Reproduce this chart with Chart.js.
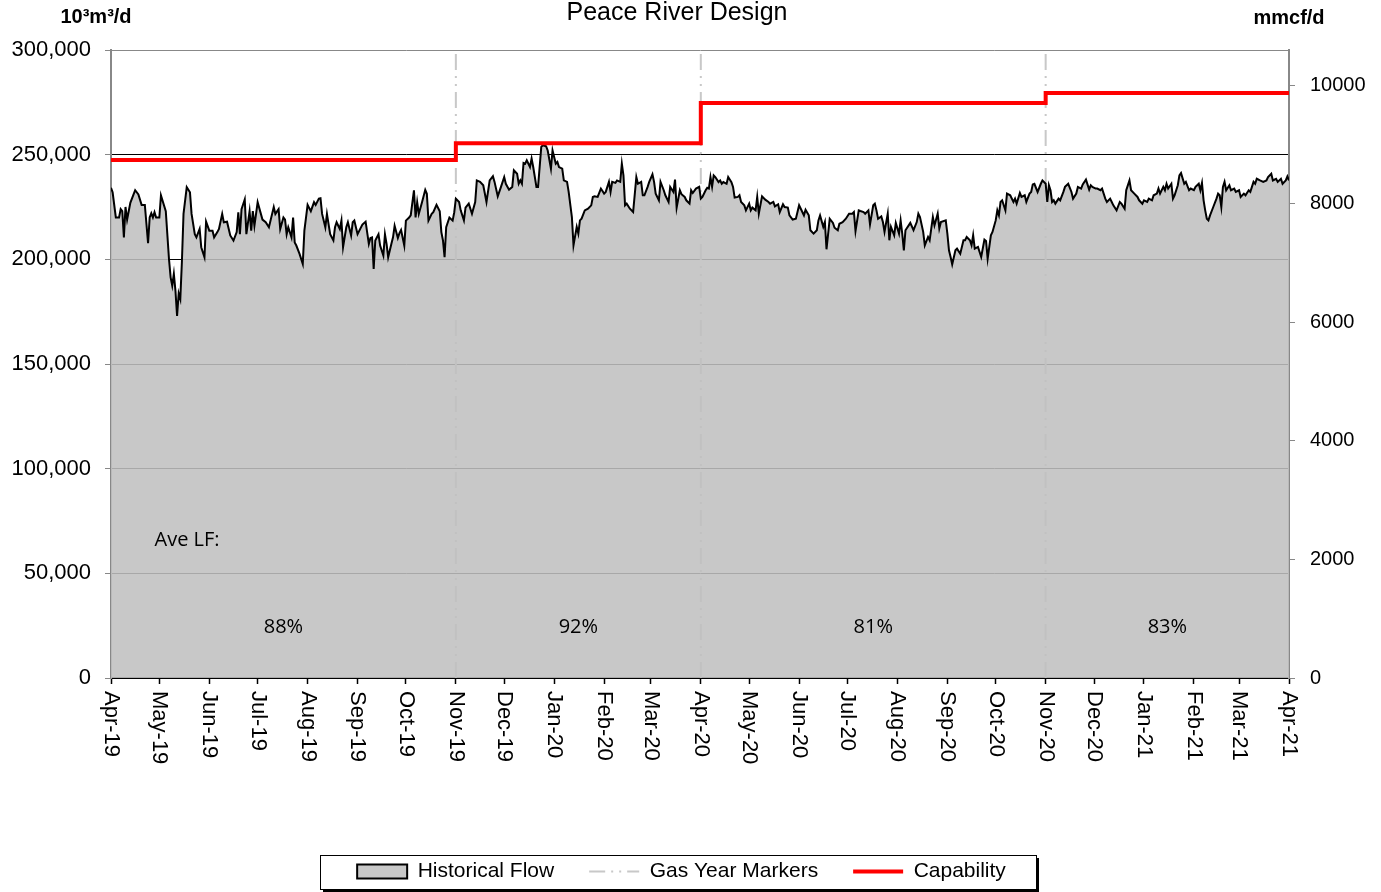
<!DOCTYPE html>
<html>
<head>
<meta charset="utf-8">
<title>Peace River Design</title>
<script src="https://cdn.jsdelivr.net/npm/chart.js@4.4.1/dist/chart.umd.min.js"></script>
<style>
  html, body { margin: 0; padding: 0; background: #fff; }
  #wrap { width: 1381px; height: 892px; }
</style>
</head>
<body>
<div id="wrap"><canvas id="flowChart" width="1381" height="892"></canvas></div>
<script>
// x axis: days since 1 Apr 2019, one tick per month
const monthLabels = [
    'Apr-19', 'May-19', 'Jun-19', 'Jul-19', 'Aug-19', 'Sep-19', 'Oct-19', 'Nov-19', 'Dec-19',
    'Jan-20', 'Feb-20', 'Mar-20', 'Apr-20', 'May-20', 'Jun-20', 'Jul-20', 'Aug-20', 'Sep-20',
    'Oct-20', 'Nov-20', 'Dec-20', 'Jan-21', 'Feb-21', 'Mar-21', 'Apr-21'
];
const rightTicks = [0, 2000, 4000, 6000, 8000, 10000];   // mmcf/d
const gasYearDays = [214, 366, 580];            // Nov-19, Apr-20, Nov-20
const loadFactors = ['88%', '92%', '81%', '83%'];

// capability, 10³m³/d (step changes)
const capabilityDays = [0, 214, 366, 580, 731];
const capabilityValues = [247500, 255500, 274700, 279500, 279500];

// historical flow (values in thousands of 10³m³/d)
const flowDays = [
    0, 1, 3, 5, 6, 7, 8, 9, 10, 12,
    14, 15, 17, 19, 21, 23, 24, 25, 26, 27,
    28, 30, 31, 34, 36, 37, 38, 39, 40, 41,
    42, 43, 44, 45, 47, 49, 50, 52, 53, 55,
    56, 58, 59, 61, 63, 64, 66, 67, 69, 70,
    72, 74, 76, 78, 79, 80, 81, 83, 84, 86,
    87, 88, 89, 91, 94, 96, 98, 101, 102, 104,
    105, 107, 108, 109, 110, 112, 113, 114, 115, 117,
    119, 120, 122, 124, 126, 127, 129, 130, 131, 133,
    134, 136, 138, 139, 140, 142, 143, 144, 146, 147,
    149, 150, 151, 153, 156, 158, 160, 161, 162, 163,
    164, 166, 167, 169, 170, 171, 172, 174, 175, 176,
    178, 179, 180, 182, 183, 185, 186, 188, 189, 190,
    191, 193, 195, 196, 197, 199, 200, 202, 204, 205,
    206, 207, 208, 210, 212, 213,
    214, 216, 217, 219, 220, 222, 224, 226, 227, 229,
    231, 233, 235, 237, 238, 240, 242, 244, 245, 247,
    249, 250, 252, 253, 254, 255, 256, 257, 258, 260,
    261, 262, 264, 265, 267, 268, 270, 271, 273, 274,
    276, 277, 278, 280, 281, 283, 284, 286, 287, 289,
    290, 291, 292, 294, 296, 298, 299, 300, 302, 304,
    306, 307, 309, 310, 311, 313, 314, 316, 317, 318,
    319, 320, 322, 324, 326, 327, 329, 330, 331, 333,
    334, 336, 337, 338, 340, 341, 343, 344, 346, 347,
    349, 350, 351, 353, 354, 356, 357, 359, 360, 361,
    363, 365,
    366, 367, 369, 370, 371, 372, 373, 374, 375, 377,
    378, 379, 380, 382, 383, 385, 386, 387, 389, 390,
    391, 393, 394, 396, 397, 398, 400, 401, 402, 404,
    406, 408, 409, 411, 412, 414, 415, 417, 418, 420,
    421, 423, 425, 427, 429, 430, 431, 433, 434, 436,
    438, 439, 440, 442, 443, 444, 446, 448, 449, 451,
    452, 454, 456, 458, 460, 461, 462, 464, 465, 467,
    468, 470, 471, 473, 474, 475, 476, 478, 479, 480,
    482, 483, 484, 486, 487, 489, 490, 491, 492, 493,
    495, 496, 498, 500, 501, 502, 504, 505, 507, 508,
    510, 511, 513, 514, 515, 518, 519, 520, 521, 522,
    524, 525, 527, 529, 530, 531, 533, 534, 535, 536,
    538, 539, 540, 542, 543, 544, 546, 547, 549, 550,
    551, 552,
    553, 555, 556, 558, 560, 561, 562, 564, 565, 567,
    568, 570, 571, 572, 573, 575, 577, 578, 580, 581,
    582, 583, 584, 585, 586, 588, 589, 591, 592, 594,
    596, 597, 599, 600, 602, 603, 605, 607, 608, 609,
    611, 612, 614, 615, 617, 618, 620, 621, 622, 624,
    626, 627, 629, 630, 632, 633, 635, 637, 638, 640,
    641, 643, 644, 646, 647, 649, 650, 651, 653, 654,
    655, 656, 658, 659, 660, 662, 663, 664, 666, 667,
    669, 670, 672, 673, 675, 676, 677, 678, 679, 680,
    681, 682, 684, 686, 687, 688, 689, 690, 691, 692,
    694, 695, 697, 698, 700, 701, 703, 704, 706, 707,
    709, 710, 711, 713, 715, 717, 718, 720, 721, 723,
    724, 726, 727, 729, 730, 731
];
const flowThousands = [
    234.2, 232, 220, 220, 224, 223, 210.5, 225, 219, 227,
    231, 233, 231, 226, 226, 207.7, 220, 222, 220, 222.5,
    220, 220, 230.5, 223, 200, 191.4, 187.4, 193, 185, 173,
    183.7, 181, 199, 221.7, 234.5, 232, 221.7, 212, 210.5, 214.5,
    205.8, 201, 218, 213.7, 213.7, 210.5, 213, 214.5, 221.7, 217.7,
    218, 211.4, 209, 213, 222.5, 212, 224, 228.6, 212, 223,
    213.7, 223, 216, 227.3, 219, 217.7, 215.3, 225, 221.7, 224,
    214.5, 220, 219, 212, 215.3, 210.5, 220, 208, 206.6, 202.6,
    197.8, 213.7, 226, 223, 227.3, 226, 229, 229.2, 221.7, 215.3,
    221.7, 212, 209, 215.3, 217.7, 214.5, 218.5, 205.8, 215.3, 217.7,
    211.4, 217.7, 218.5, 212, 216.6, 218, 207.4, 210.2, 210.5, 195.4,
    209, 212, 206.6, 201.8, 212, 207.4, 201, 207.4, 210.5, 216,
    210.2, 212.5, 214, 206.6, 218.5, 220, 221, 233, 220, 227.3,
    221.7, 227.3, 233.2, 231.3, 218.5, 221.7, 222.5, 226, 223, 213,
    209, 201, 215.3, 220, 218.5, 222.5,
    229, 227.4, 223.4, 218.6, 224.7, 226.6, 221.8, 227.4, 237.7, 237,
    235.4, 227.4, 237.7, 239.7, 237, 230.1, 234.6, 239.3, 236.1, 233.3,
    234.6, 242.5, 240.9, 236.1, 237.7, 236.1, 246, 245.7, 247.3, 244.1,
    248.1, 244.1, 234.6, 234.6, 253.7, 254.5, 254, 252, 243.3, 252,
    245.7, 246.5, 244.1, 243.3, 237.7, 237, 232.2, 220.2, 206.7, 215.5,
    212.3, 218.6, 219.4, 223.4, 224.2, 225.8, 229.8, 230.1, 229.8, 233.8,
    231.4, 232.2, 237, 232.2, 237, 236.5, 237.7, 237, 245.7, 240.1,
    225.8, 226.6, 224.2, 222.6, 239.3, 236.1, 237, 230.6, 230.6, 234.6,
    237, 240.6, 237, 231.4, 228.2, 237, 233, 230.6, 227.4, 234.6,
    232.2, 238.1, 224.7, 233, 231.1, 229.8, 228.2, 226.6, 233, 231.7,
    233.8, 234.6,
    229, 229.8, 233, 234.2, 233.8, 239.3, 234.7, 240.1, 239.3, 236.9,
    237.7, 236.1, 236.9, 236.1, 239.3, 236.9, 234.6, 229.5, 229.8, 230.6,
    227.4, 225.8, 223.4, 226.6, 223.4, 224.7, 223.4, 229.8, 221.8, 230.1,
    228.5, 227.4, 226.6, 227.4, 225.3, 226.3, 222.6, 226.3, 225, 224.7,
    221, 219, 219.4, 225.8, 222.6, 221, 223.7, 221, 213.9, 212.3,
    213.9, 218.6, 221, 215.5, 217.8, 204.8, 219.4, 217.4, 215.1, 213.9,
    217, 217.8, 219.4, 221.8, 221.8, 222.6, 213.5, 223.4, 223.1, 222.6,
    221.8, 223.4, 216.7, 225.8, 226.6, 223.4, 219.4, 220.5, 217.8, 213.1,
    221.8, 209.1, 215.5, 211.5, 217.4, 212.3, 218.6, 212.3, 204.3, 213.9,
    216.2, 217.4, 213.9, 217.8, 221.8, 220.2, 213.1, 206.7, 210.7, 209.1,
    220.2, 216.2, 221.8, 214.7, 217.8, 218.6, 212.3, 204.3, 201.1, 197.6,
    204.3, 205.1, 202.7, 209.1, 209.1, 210.7, 209.1, 206.7, 211.5, 205.1,
    205.9, 203.5, 201.1, 209.4, 208.8, 200.3, 211.5, 213.1, 218.6, 223.4,
    221, 227.4,
    228.2, 223.4, 231.4, 230.6, 227.4, 229, 226.6, 231.7, 229.8, 230.6,
    227.4, 231.4, 232.2, 235.8, 236.1, 232.2, 236.1, 237.7, 236.1, 227.4,
    235.4, 233, 227.4, 228.2, 226.6, 229, 228.2, 232.2, 234.6, 236.1,
    232.2, 229, 231.4, 234.6, 233.8, 235.8, 238.1, 233.3, 235.4, 234.6,
    233.8, 233.8, 233, 233.8, 229, 227.4, 229, 227.4, 225.8, 223.4,
    227.4, 226.6, 224.2, 233, 237.7, 233, 231.4, 229.8, 228.2, 226.6,
    228.2, 227.4, 229, 228.2, 230.6, 231.4, 233.8, 231.4, 234.6, 233,
    236.1, 233.8, 236.1, 229, 230.6, 235.4, 240.1, 241.2, 236.1, 237,
    233, 233.8, 233, 234.6, 236.1, 233, 236.5, 228.2, 223.4, 219.4,
    218.6, 221, 225, 229, 231.4, 230.6, 225, 234.6, 237, 233,
    235.4, 233, 233.8, 232.2, 233, 229.8, 231.4, 230.6, 233, 232.2,
    237, 236.1, 238.5, 237.7, 237, 237.7, 239.3, 240.9, 237.7, 238.5,
    237, 238.5, 236.1, 237.7, 239.6, 237.7
];

const M3_PER_MMCF = 28.317;   // 10³m³ per mmcf
const Y_MAX = 300000;
const LAST_DAY = 731;

const startUtc = Date.UTC(2019, 3, 1);
const monthDays = monthLabels.map((m, i) => Math.round((Date.UTC(2019, 3 + i, 1) - startUtc) / 86400000));

const sans = "'Liberation Sans', Arial, sans-serif";

// titles, rotated month labels, load factor notes and the legend frame
const decor = {
    id: 'decor',
    afterLayout(chart) {
        // legend sits a little left of centre in the original
        chart.legend.right -= 18;
    },
    afterDraw(chart) {
        const {ctx, chartArea: area, scales: {x, y}} = chart;
        ctx.save();
        ctx.fillStyle = '#000';
        ctx.textBaseline = 'middle';

        ctx.textAlign = 'center';
        ctx.font = '25px ' + sans;
        ctx.fillText('Peace River Design', 677, 13);
        ctx.font = 'bold 20px ' + sans;
        ctx.fillText('10³m³/d', 96, 17);
        ctx.fillText('mmcf/d', 1289, 18);

        // month labels read top to bottom
        ctx.font = '22px ' + sans;
        ctx.textAlign = 'left';
        x.ticks.forEach((t, i) => {
            ctx.save();
            ctx.translate(x.getPixelForValue(t.value), area.bottom + 13);
            ctx.rotate(Math.PI / 2);
            ctx.fillText(monthLabels[i], 0, 0);
            ctx.restore();
        });

        ctx.font = "20px 'Open Sans', sans-serif";
        ctx.fillText('Ave LF:', x.getPixelForValue(27), y.getPixelForValue(66000));
        ctx.textAlign = 'center';
        const bounds = [0, ...gasYearDays, LAST_DAY];
        loadFactors.forEach((lf, i) => {
            ctx.fillText(lf, x.getPixelForValue((bounds[i] + bounds[i + 1]) / 2), y.getPixelForValue(24000));
        });

        // legend frame with drop shadow
        const hb = chart.legend.legendHitBoxes;
        if (hb && hb.length) {
            const first = hb[0], last = hb[hb.length - 1];
            const bx = Math.round(first.left - 37);
            const by = Math.round(first.top - 6);
            const bw = Math.round(last.left + last.width + 30) - bx;
            const bh = 34;
            ctx.fillStyle = '#000';
            ctx.fillRect(bx + bw, by + 3, 3, bh);
            ctx.fillRect(bx + 3, by + bh, bw, 3);
            ctx.strokeStyle = '#000';
            ctx.lineWidth = 1;
            ctx.strokeRect(bx + 0.5, by + 0.5, bw, bh);
        }
        ctx.restore();
    }
};

const ctx = document.getElementById('flowChart').getContext('2d');
const flowChart = new Chart(ctx, {
    type: 'line',
    data: {
        datasets: [
            {
                label: 'Historical Flow',
                data: flowDays.map((d, i) => ({x: d, y: flowThousands[i] * 1000})),
                borderColor: '#000',
                borderWidth: 2,
                backgroundColor: 'rgba(192,192,192,0.875)',
                fill: 'origin',
                pointRadius: 0,
                pointStyle: 'rect',
                order: 1
            },
            {
                label: 'Gas Year Markers',
                data: gasYearDays.flatMap(d => [{x: d, y: 0}, {x: d, y: Y_MAX}, {x: d, y: null}]),
                borderColor: '#c8c8c8',
                borderWidth: 2,
                borderDash: [16, 6, 2, 6, 2, 6],
                fill: false,
                pointRadius: 0,
                pointStyle: 'line',
                order: 2
            },
            {
                label: 'Capability',
                data: capabilityDays.map((d, i) => ({x: d, y: capabilityValues[i]})),
                borderColor: '#ff0000',
                borderWidth: 4,
                stepped: true,
                fill: false,
                pointRadius: 0,
                pointStyle: 'line',
                order: 0
            }
        ]
    },
    options: {
        responsive: false,
        animation: false,
        layout: {padding: {top: 50, left: 0, right: 0, bottom: 0}},
        scales: {
            x: {
                type: 'linear',
                min: 0,
                max: LAST_DAY,
                afterBuildTicks: s => { s.ticks = monthDays.map(v => ({value: v})); },
                afterFit: s => { s.height = 148; },
                ticks: {display: false},
                grid: {drawOnChartArea: false, tickLength: 6, color: '#000', tickColor: '#000', tickWidth: 1.5},
                border: {color: '#000', width: 2}
            },
            y: {
                position: 'left',
                min: 0,
                max: Y_MAX,
                afterFit: s => { s.width = 111; },
                ticks: {
                    stepSize: 50000,
                    padding: 14,
                    color: '#000',
                    font: {family: sans, size: 22},
                    callback: v => v.toLocaleString('en-US')
                },
                grid: {
                    color: c => (c.tick && c.tick.value === Y_MAX) ? '#888' : '#000',
                    lineWidth: 1,
                    tickLength: 6,
                    tickColor: '#888'
                },
                border: {color: '#888', width: 2}
            },
            y2: {
                position: 'right',
                min: 0,
                max: Y_MAX / M3_PER_MMCF,
                afterFit: s => { s.width = 92; },
                afterBuildTicks: s => { s.ticks = rightTicks.map(v => ({value: v})); },
                ticks: {
                    padding: 15,
                    color: '#000',
                    font: {family: sans, size: 20},
                    callback: v => String(v)
                },
                grid: {drawOnChartArea: false, tickLength: 6, tickColor: '#888'},
                border: {color: '#888', width: 2}
            }
        },
        plugins: {
            legend: {
                position: 'bottom',
                labels: {
                    usePointStyle: true,
                    pointStyleWidth: 50,
                    boxHeight: 14,
                    padding: 35,
                    color: '#000',
                    font: {family: sans, size: 21},
                    generateLabels: chart => chart.data.datasets.map((ds, i) => ({
                        text: ds.label,
                        datasetIndex: i,
                        fillStyle: ds.backgroundColor || ds.borderColor,
                        strokeStyle: ds.borderColor,
                        lineWidth: ds.borderWidth,
                        lineDash: ds.borderDash || [],
                        pointStyle: ds.pointStyle,
                        fontColor: '#000',
                        hidden: false
                    }))
                }
            },
            title: {display: false},
            tooltip: {enabled: false}
        }
    },
    plugins: [decor]
});
</script>
</body>
</html>
